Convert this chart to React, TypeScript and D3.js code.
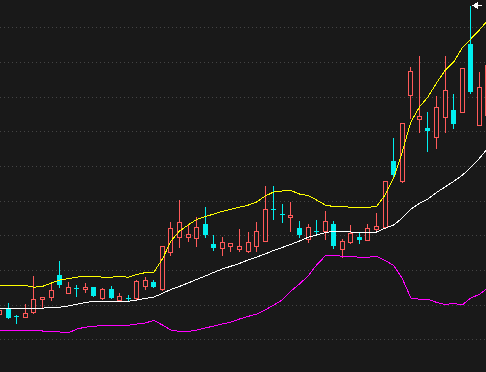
import React from 'react';
import * as d3 from 'd3';

// daily K-line with Bollinger bands (upper / mid / lower)
const opens = [4.30, 4.55, 4.19, 4.15, 4.40, 5.05, 5.17, 6.25, 5.37, 5.59,
  5.53, 5.64, 5.08, 5.54, 4.98, 5.10, 5.10, 5.72, 5.90, 5.55,
  7.42, 8.14, 8.17, 8.08, 8.80, 7.80, 7.59, 7.68, 7.57, 7.43,
  7.72, 7.97, 9.53, 9.32, 9.14, 8.59, 8.04, 8.44, 8.45, 8.80,
  7.54, 7.88, 8.14, 7.99, 8.57, 8.67, 11.95, 10.97, 15.24, 14.04,
  13.60, 13.14, 14.17, 14.50, 14.42, 17.80, 13.77, 14.25];
const closes = [4.50, 4.12, 4.14, 4.34, 5.04, 5.17, 5.48, 5.75, 5.64, 5.55,
  5.66, 5.22, 5.54, 5.12, 5.19, 5.07, 5.95, 6.00, 5.67, 7.70,
  8.59, 8.89, 8.30, 8.64, 8.24, 7.62, 7.90, 7.84, 7.69, 7.89,
  8.44, 9.54, 9.49, 9.24, 9.25, 8.23, 8.64, 8.40, 8.94, 7.69,
  7.95, 8.37, 8.00, 8.59, 8.69, 10.94, 11.26, 13.84, 16.45, 14.20,
  13.47, 14.64, 15.50, 13.82, 16.59, 15.40, 15.64, 16.75];
const highs = [4.60, 4.87, 4.24, 4.80, 6.20, 5.17, 5.79, 6.95, 5.92, 5.75,
  5.83, 5.65, 5.60, 5.70, 5.34, 5.25, 6.00, 6.16, 6.00, 7.70,
  8.89, 10.00, 8.75, 9.14, 9.64, 8.25, 8.17, 7.84, 8.55, 8.39,
  8.90, 10.71, 10.70, 9.80, 9.90, 8.95, 8.82, 8.99, 9.45, 8.95,
  8.05, 8.75, 8.34, 8.79, 9.37, 10.94, 13.10, 13.84, 16.67, 17.20,
  14.40, 15.20, 17.20, 15.30, 16.59, 19.70, 16.42, 17.00];
const lows = [4.20, 4.10, 3.87, 4.15, 4.37, 4.59, 5.00, 5.65, 5.37, 5.22,
  5.42, 5.20, 5.05, 5.10, 4.97, 4.93, 5.05, 5.56, 5.65, 5.50,
  7.25, 7.67, 7.95, 7.72, 8.14, 7.50, 7.27, 7.43, 7.47, 7.42,
  7.47, 7.97, 9.04, 8.92, 8.45, 8.14, 7.92, 8.35, 8.04, 7.61,
  7.14, 7.84, 7.84, 7.99, 8.47, 8.65, 11.08, 10.90, 14.10, 13.42,
  12.47, 12.62, 13.42, 13.62, 14.42, 15.34, 13.77, 14.10];

const upperBand = [5.75, 5.75, 5.75, 5.73, 5.64, 5.68, 5.84, 6.00, 6.07, 6.14,
  6.20, 6.20, 6.14, 6.14, 6.19, 6.14, 6.27, 6.37, 6.39, 7.05,
  7.95, 8.45, 8.75, 9.03, 9.17, 9.30, 9.43, 9.54, 9.64, 9.74,
  9.90, 10.20, 10.40, 10.45, 10.47, 10.30, 10.22, 10.00, 9.75, 9.67,
  9.67, 9.64, 9.64, 9.64, 9.67, 10.25, 11.10, 12.40, 13.90, 14.65,
  15.15, 15.85, 16.48, 16.90, 17.60, 18.05, 18.50, 19.00];
const midBand = [4.59, 4.59, 4.59, 4.59, 4.59, 4.59, 4.64, 4.64, 4.70, 4.79,
  4.87, 4.94, 4.94, 4.94, 4.94, 4.94, 5.00, 5.08, 5.15, 5.33,
  5.53, 5.68, 5.85, 6.03, 6.20, 6.38, 6.55, 6.69, 6.83, 7.00,
  7.15, 7.30, 7.48, 7.63, 7.78, 7.95, 8.13, 8.25, 8.37, 8.44,
  8.44, 8.40, 8.40, 8.40, 8.40, 8.59, 8.75, 9.10, 9.54, 9.83,
  10.05, 10.38, 10.65, 10.93, 11.23, 11.63, 12.08, 12.60];
const lowerBand = [3.50, 3.45, 3.50, 3.50, 3.50, 3.45, 3.45, 3.40, 3.35, 3.55,
  3.64, 3.68, 3.74, 3.74, 3.74, 3.74, 3.80, 3.85, 3.98, 3.75,
  3.50, 3.43, 3.43, 3.50, 3.60, 3.70, 3.80, 3.90, 4.05, 4.18,
  4.30, 4.50, 4.75, 5.00, 5.45, 5.80, 6.20, 6.75, 7.20, 7.22,
  7.19, 7.17, 7.14, 7.14, 7.18, 6.98, 6.73, 6.08, 5.10, 5.04,
  5.04, 4.88, 4.77, 4.83, 4.75, 5.10, 5.28, 5.60];

const gridLevels = [18.64, 16.90, 15.17, 13.43, 11.70, 9.97, 8.23, 6.50, 4.77, 3.03];

const W = 486;
const H = 372;
const BG = '#191919';
const UP = '#ff5a5a';
const DOWN = '#00f0f0';

const App = () => {
  const n = opens.length;
  const x = d3.scaleLinear().domain([0, n - 1]).range([-0.3, 487.9]);
  const y = d3.scaleLinear().domain([1.4, 20]).range([H, 0]);

  const line = d3.line<number>()
    .x((d, i) => x(i))
    .y(d => y(d));

  const bands = [
    { values: upperBand, color: '#ffff00' },
    { values: midBand, color: '#ffffff' },
    { values: lowerBand, color: '#ff00ff' },
  ];

  // highest bar gets the little max-price arrow
  const maxIdx = d3.maxIndex(highs);
  const mx = Math.round(x(maxIdx)) + 2;
  const my = Math.round(y(highs[maxIdx])) - 0.5;

  return (
    <div>
      <style>{`body{margin:0;background:${BG};}`}</style>
      <svg width={W} height={H} style={{ display: 'block', background: BG }}>
        <rect width={W} height={H} fill={BG} />
        {gridLevels.map((g, i) => (
          <line key={i} x1={0} x2={W} y1={Math.round(y(g)) + 0.5} y2={Math.round(y(g)) + 0.5}
            stroke="#444" strokeDasharray="1 3" />
        ))}

        {opens.map((o, i) => {
          const c = closes[i];
          const up = c >= o;
          const col = up ? UP : DOWN;
          const left = Math.round(x(i) - 2.5);
          const cx = left + 2.5;
          const yTop = Math.round(y(Math.max(o, c)));
          const yBot = Math.round(y(Math.min(o, c)));
          const yH = Math.round(y(highs[i]));
          const yL = Math.round(y(lows[i]));
          return (
            <g key={i} shapeRendering="crispEdges">
              <line x1={cx} x2={cx} y1={yH} y2={yL + 1} stroke={col} />
              {up ? (
                <rect x={left + 0.5} y={yTop + 0.5} width={4} height={Math.max(1, yBot - yTop)}
                  fill={BG} stroke={col} />
              ) : (
                <rect x={left} y={yTop} width={5} height={Math.max(1, yBot - yTop)} fill={col} />
              )}
            </g>
          );
        })}

        {bands.map((b, i) => (
          <path key={i} d={line(b.values) || ''} fill="none" stroke={b.color} strokeWidth={1}
            shapeRendering="crispEdges" />
        ))}

        <g stroke="#fff" fill="#fff" shapeRendering="crispEdges">
          <line x1={mx} x2={mx + 9} y1={my} y2={my} />
          <path d={`M${mx},${my} l4,-2.5 l0,5 z`} />
        </g>
      </svg>
    </div>
  );
};

export default App;
